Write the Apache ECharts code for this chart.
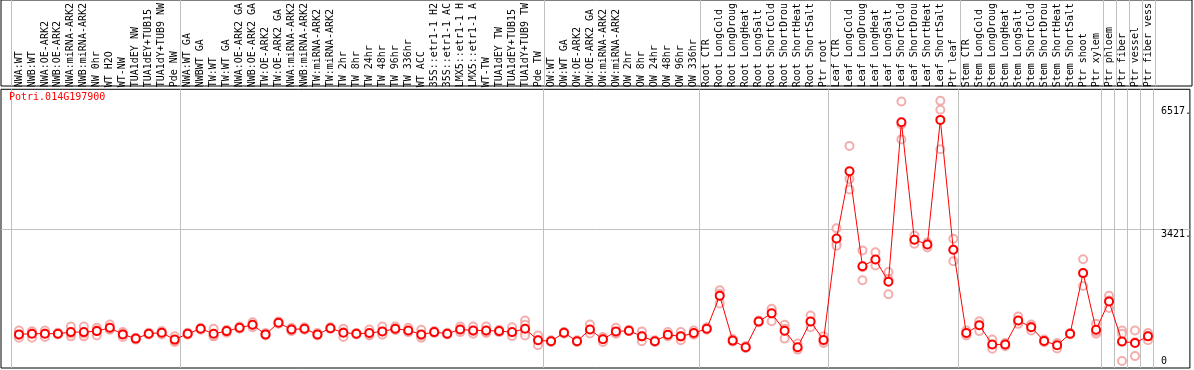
<!DOCTYPE html>
<html>
<head>
<meta charset="utf-8">
<script src="https://cdn.jsdelivr.net/npm/echarts@6.0.0/dist/echarts.min.js"></script>
<style>html,body{margin:0;padding:0;background:#fff}#c{width:1194px;height:370px}</style>
</head>
<body>
<div id="c"></div>
<script>
var geneName = 'Potri.014G197900';
var categories = [
 'NWA:WT','NWB:WT','NWA:OE-ARK2','NWB:OE-ARK2','NWA:miRNA-ARK2','NWB:miRNA-ARK2','NW 0hr','WT H2O','WT-NW','TUA1dEY NW','TUA1dEY+TUB15','TUA1dY+TUB9 NW','Pde NW',
 'NWA:WT GA','NWBWT GA','TW:WT','TW:WT GA','NWA:OE-ARK2 GA','NWB:OE-ARK2 GA','TW:OE-ARK2','TW:OE-ARK2 GA','NWA:miRNA-ARK2','NWB:miRNA-ARK2','TW:miRNA-ARK2','TW:miRNA-ARK2','TW 2hr','TW 8hr','TW 24hr','TW 48hr','TW 96hr','TW 336hr','WT ACC','35S::etr1-1 H2','35S::etr1-1 AC','LMX5::etr1-1 H','LMX5::etr1-1 A','WT-TW','TUA1dEY TW','TUA1dEY+TUB15','TUA1dY+TUB9 TW','Pde TW',
 'OW:WT','OW:WT GA','OW:OE-ARK2','OW:OE-ARK2 GA','OW:miRNA-ARK2','OW:miRNA-ARK2','OW 2hr','OW 8hr','OW 24hr','OW 48hr','OW 96hr','OW 336hr',
 'Root CTR','Root LongCold','Root LongDroug','Root LongHeat','Root LongSalt','Root ShortCold','Root ShortDrou','Root ShortHeat','Root ShortSalt','Ptr root',
 'Leaf CTR','Leaf LongCold','Leaf LongDroug','Leaf LongHeat','Leaf LongSalt','Leaf ShortCold','Leaf ShortDrou','Leaf ShortHeat','Leaf ShortSalt','Ptr leaf',
 'Stem CTR','Stem LongCold','Stem LongDroug','Stem LongHeat','Stem LongSalt','Stem ShortCold','Stem ShortDrou','Stem ShortHeat','Stem ShortSalt','Ptr shoot',
 'Ptr xylem','Ptr phloem','Ptr fiber','Ptr vessel','Ptr fiber vess'
];
var meanValues = [
 793,811,811,811,850,850,875,959,793,687,811,835,662,
 811,935,811,875,959,1034,793,1083,917,935,793,949,835,811,826,868,935,892,793,850,811,917,892,892,875,850,935,645,
 620,835,620,917,669,868,885,744,620,786,744,826,
 935,1760,637,471,1116,1321,885,471,1116,652,
 3198,4884,2504,2670,2115,6116,3166,3049,6173,2918,
 826,1024,538,538,1140,974,627,521,811,2330,
 910,1619,612,578,744
];
var replicateValues = [
 [892,711,776],[850,711,870],[892,726,815],[835,793,805],[992,744,815],[992,744,815],[959,768,898],[1041,910,926],[850,726,803],[711,662,688],[835,793,805],[875,793,837],[744,602,640],
 [835,786,812],[959,910,936],[935,744,754],[910,835,880],[992,935,950],[1098,974,1030],[826,768,785],[1116,1059,1074],[959,875,917],[974,910,921],[826,768,785],[974,935,938],[935,726,844],[826,793,814],[917,768,793],[992,826,786],[992,910,903],[959,850,867],[910,711,758],[875,826,849],[835,793,805],[992,850,909],[992,811,873],[992,826,858],[910,850,865],[974,826,750],[1140,1034,850,768],[768,521,646],
 [645,602,613],[850,811,844],[645,602,613],[1041,892,818],[726,602,679],[959,811,834],[910,870,875],[868,620,744],[645,602,613],[850,768,740],[850,645,737],[892,786,800],
 [974,910,921],[1901,1569,1810],[677,620,614],[503,454,456],[1140,1091,1117],[1406,1123,1434],[1034,687,934],[563,439,411],[1264,974,1110],[744,578,634],
 [3453,3074,3017],[5521,4693,4430],[2900,2149,2479],[2851,2653,2521],[2355,2182,1802],[6636,6056,5684],[3272,3067,3166],[3099,3017,2975],[6651,6428,5436],[3190,2628,2918],
 [892,768,818],[1073,875,1124],[662,521,431],[578,496,540],[1240,1123,1057],[1041,892,989],[662,595,624],[545,439,579],[826,793,814],[2677,2008,2330],
 [1059,811,860],[1760,1455,1642],[892,811,124],[892,248,595],[826,645,761]
];
var yTickLabels = [0, 3421, 6517];
var hGridValues = [3421];
var groupLines = [-0.6, 12.4, 40.4, 52.4, 62.4, 72.4, 83.4, 84.4, 85.4, 86.4, 87.4];

var idx = categories.map(function (c, i) { return i; });
var lineData = meanValues.map(function (v, i) { return [i, v]; });
var repData = [];
replicateValues.forEach(function (arr, i) { arr.forEach(function (v) { repData.push([i, v]); }); });

var FONT = 'DejaVu Sans Mono';
var xMin = -18 / 13, xMax = 1173 / 13;
var yMin = -50, yMax = 6941;

var chart = echarts.init(document.getElementById('c'), null, {renderer: 'canvas'});
chart.setOption({
  animation: false,
  backgroundColor: '#fff',
  title: {
    text: geneName, left: 9, top: 92, padding: 0,
    textStyle: {color: '#ff0000', fontSize: 10, fontWeight: 'normal', fontFamily: FONT}
  },
  grid: [
    {left: 1, right: 2, top: 0, height: 86, show: true, borderColor: '#000', borderWidth: 1, backgroundColor: 'transparent'},
    {left: 1, right: 2, top: 86, bottom: 2, show: true, borderColor: '#000', borderWidth: 1, backgroundColor: 'transparent'}
  ],
  xAxis: [
    {
      type: 'value', gridIndex: 0, min: xMin, max: xMax,
      axisLine: {show: false},
      axisTick: {show: false, customValues: groupLines},
      axisLabel: {show: false},
      splitLine: {show: true, lineStyle: {color: '#c0c0c0', width: 1}}
    },
    {
      type: 'value', gridIndex: 1, position: 'top', min: xMin, max: xMax,
      axisLine: {show: false},
      axisTick: {show: false, customValues: groupLines},
      splitLine: {show: true, lineStyle: {color: '#c0c0c0', width: 1}},
      axisLabel: {
        show: true, customValues: idx, rotate: 90, margin: 2,
        fontFamily: FONT, fontSize: 10, color: '#000',
        formatter: function (v) { return categories[Math.round(v)] || ''; }
      }
    }
  ],
  yAxis: [
    {
      type: 'value', gridIndex: 0, min: 0, max: 1,
      axisLine: {show: false}, axisTick: {show: false}, axisLabel: {show: false}, splitLine: {show: false}
    },
    {
      type: 'value', gridIndex: 1, position: 'right', min: yMin, max: yMax,
      axisLine: {show: false},
      axisTick: {show: false, customValues: hGridValues},
      splitLine: {show: true, lineStyle: {color: '#c0c0c0', width: 1}},
      axisLabel: {
        show: true, inside: true, customValues: [yTickLabels[1], yTickLabels[2]],
        margin: 29, align: 'left', verticalAlign: 'top',
        fontFamily: FONT, fontSize: 10, color: '#000',
        formatter: function (v) { return v + '.'; }
      }
    },
    {
      type: 'value', gridIndex: 1, position: 'right', min: yMin, max: yMax,
      axisLine: {show: false}, axisTick: {show: false}, splitLine: {show: false},
      axisLabel: {
        show: true, inside: true, customValues: [yTickLabels[0]],
        margin: 29, align: 'left', verticalAlign: 'bottom',
        fontFamily: FONT, fontSize: 10, color: '#000',
        formatter: function (v) { return String(v); }
      }
    }
  ],
  series: [
    {
      type: 'scatter', xAxisIndex: 1, yAxisIndex: 1, data: repData,
      symbol: 'emptyCircle', symbolSize: 8,
      itemStyle: {color: '#f09a9a', borderColor: '#f09a9a', borderWidth: 1.3},
      z: 2, silent: true
    },
    {
      type: 'line', xAxisIndex: 1, yAxisIndex: 1, data: lineData,
      symbol: 'emptyCircle', symbolSize: 8,
      lineStyle: {color: '#ff0000', width: 1},
      itemStyle: {color: '#ff0000', borderColor: '#ff0000', borderWidth: 1.6},
      z: 3, silent: true
    }
  ]
});
</script>
</body>
</html>
